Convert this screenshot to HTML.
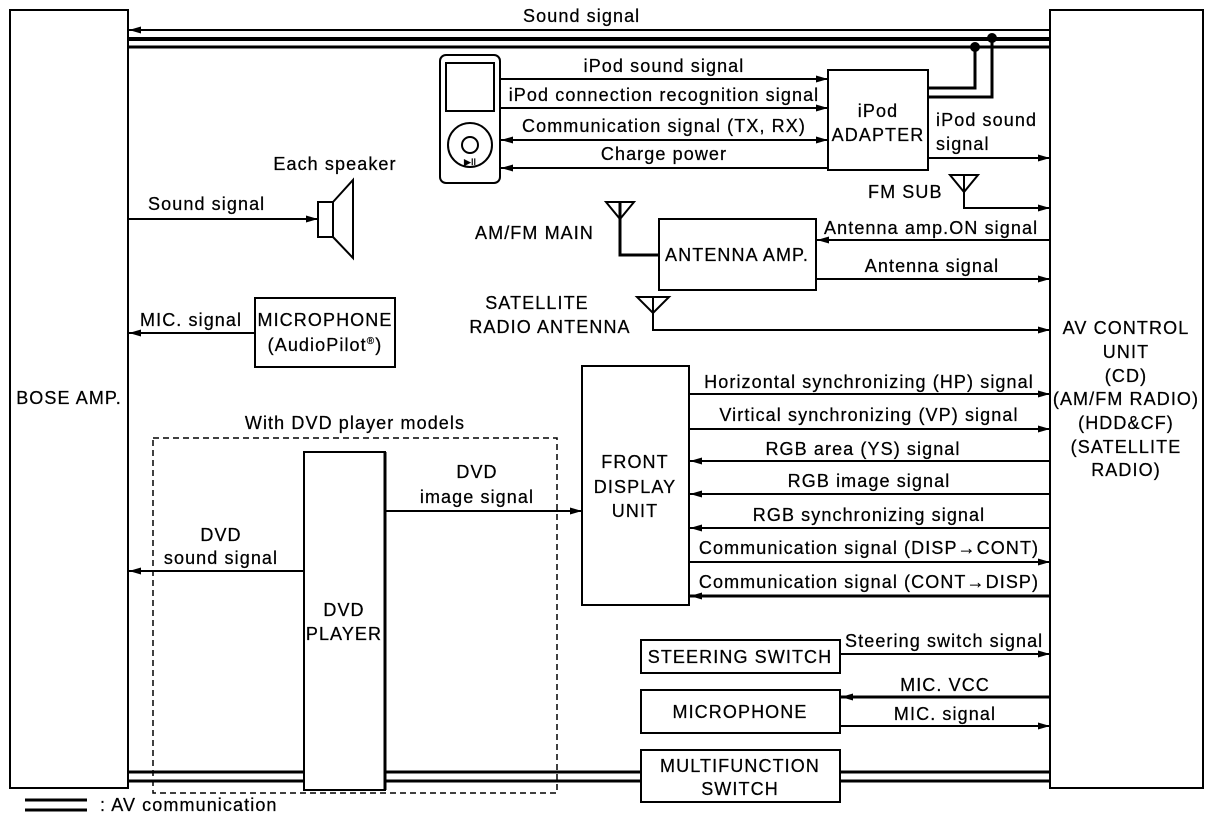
<!DOCTYPE html>
<html><head><meta charset="utf-8"><style>
html,body{margin:0;padding:0;background:#fff;}
svg{display:block;}
text{font-family:"Liberation Sans",Arial,sans-serif;font-size:18px;letter-spacing:1.1px;fill:#000;stroke:#000;stroke-width:0.25px;}
</style></head><body>
<svg width="1216" height="822" viewBox="0 0 1216 822" xmlns="http://www.w3.org/2000/svg">
<defs>
<marker id="a" markerWidth="12" markerHeight="8" refX="12" refY="4" orient="auto" markerUnits="userSpaceOnUse">
<path d="M0,0.5 L12,4 L0,7.5 Z" fill="#000"/></marker>
<marker id="s" markerWidth="12" markerHeight="8" refX="0" refY="4" orient="auto" markerUnits="userSpaceOnUse">
<path d="M12,0.5 L0,4 L12,7.5 Z" fill="#000"/></marker>
</defs>
<g stroke="#000" fill="none" stroke-width="2">
<rect x="10" y="10" width="118" height="778"/>
<rect x="1050" y="10" width="153" height="778"/>
<line x1="1050" y1="30" x2="129" y2="30" marker-end="url(#a)"/>
<line x1="128" y1="39" x2="1050" y2="39" stroke-width="4"/>
<line x1="128" y1="47" x2="1050" y2="47" stroke-width="3"/>
<polyline points="928,88 975,88 975,48" stroke-width="3"/>
<polyline points="928,97 992,97 992,39" stroke-width="3"/>
</g>
<circle cx="975" cy="47" r="5"/>
<circle cx="992" cy="38" r="5"/>
<g stroke="#000" fill="none" stroke-width="2">
<rect x="440" y="55" width="60" height="128" rx="6"/>
<rect x="446" y="63" width="48" height="48"/>
<circle cx="470" cy="145" r="22"/>
<circle cx="470" cy="145" r="8"/>
<rect x="828" y="70" width="100" height="100"/>
<line x1="500" y1="79" x2="828" y2="79" marker-end="url(#a)"/>
<line x1="500" y1="108" x2="828" y2="108" marker-end="url(#a)"/>
<line x1="501" y1="140" x2="828" y2="140" marker-start="url(#s)" marker-end="url(#a)"/>
<line x1="828" y1="168" x2="501" y2="168" marker-end="url(#a)"/>
<line x1="928" y1="158" x2="1050" y2="158" marker-end="url(#a)"/>
<path d="M950,175 L978,175 L964,192 Z"/>
<polyline points="964,175 964,208 1050,208" marker-end="url(#a)"/>
<rect x="659" y="219" width="157" height="71"/>
<line x1="1050" y1="240" x2="817" y2="240" marker-end="url(#a)"/>
<line x1="816" y1="279" x2="1050" y2="279" marker-end="url(#a)"/>
<path d="M606,202 L634,202 L620,219 Z"/>
<polyline points="620,202 620,255 659,255" stroke-width="3"/>
<path d="M637,297 L669,297 L653,313 Z"/>
<polyline points="653,297 653,330 1050,330" marker-end="url(#a)"/>
<line x1="128" y1="219" x2="318" y2="219" marker-end="url(#a)"/>
<rect x="318" y="202" width="15" height="35"/>
<path d="M333,202 L353,180 L353,258 L333,237"/>
<rect x="255" y="298" width="140" height="69"/>
<line x1="255" y1="333" x2="129" y2="333" marker-end="url(#a)"/>
<rect x="582" y="366" width="107" height="239"/>
<line x1="689" y1="394" x2="1050" y2="394" marker-end="url(#a)"/>
<line x1="689" y1="429" x2="1050" y2="429" marker-end="url(#a)"/>
<line x1="1050" y1="461" x2="690" y2="461" marker-end="url(#a)"/>
<line x1="1050" y1="494" x2="690" y2="494" marker-end="url(#a)"/>
<line x1="1050" y1="528" x2="690" y2="528" marker-end="url(#a)"/>
<line x1="689" y1="562" x2="1050" y2="562" marker-end="url(#a)"/>
<line x1="1050" y1="596" x2="690" y2="596" marker-end="url(#a)" stroke-width="3"/>
<rect x="153" y="438" width="404" height="355" stroke-width="1.5" stroke-dasharray="6,4"/>
<line x1="128" y1="772" x2="1050" y2="772" stroke-width="3"/>
<line x1="128" y1="781" x2="1050" y2="781" stroke-width="3"/>
<rect x="304" y="452" width="81" height="338" fill="#fff"/>
<line x1="385" y1="452" x2="385" y2="790" stroke-width="3"/>
<line x1="385" y1="511" x2="582" y2="511" marker-end="url(#a)"/>
<line x1="304" y1="571" x2="129" y2="571" marker-end="url(#a)"/>
<rect x="641" y="640" width="199" height="33"/>
<line x1="840" y1="654" x2="1050" y2="654" marker-end="url(#a)"/>
<rect x="641" y="690" width="199" height="43"/>
<line x1="1050" y1="697" x2="841" y2="697" marker-end="url(#a)" stroke-width="3"/>
<line x1="840" y1="726" x2="1050" y2="726" marker-end="url(#a)"/>
<rect x="641" y="750" width="199" height="52" fill="#fff"/>
<line x1="25" y1="800" x2="87" y2="800" stroke-width="3"/>
<line x1="25" y1="810" x2="87" y2="810" stroke-width="3"/>
</g>
<text x="470" y="165" text-anchor="middle" style="font-size:9px;letter-spacing:0">▶II</text>
<text x="523" y="22">Sound signal</text>
<text x="664" y="72" text-anchor="middle">iPod sound signal</text>
<text x="664" y="101" text-anchor="middle">iPod connection recognition signal</text>
<text x="664" y="132" text-anchor="middle">Communication signal (TX, RX)</text>
<text x="664" y="160" text-anchor="middle">Charge power</text>
<text x="878" y="117" text-anchor="middle">iPod</text>
<text x="878" y="141" text-anchor="middle">ADAPTER</text>
<text x="936" y="126">iPod sound</text>
<text x="936" y="150">signal</text>
<text x="868" y="198">FM SUB</text>
<text x="824" y="234">Antenna amp.ON signal</text>
<text x="737" y="261" text-anchor="middle">ANTENNA AMP.</text>
<text x="932" y="272" text-anchor="middle">Antenna signal</text>
<text x="475" y="239">AM/FM MAIN</text>
<text x="537" y="309" text-anchor="middle">SATELLITE</text>
<text x="550" y="333" text-anchor="middle">RADIO ANTENNA</text>
<text x="335" y="170" text-anchor="middle">Each speaker</text>
<text x="148" y="210">Sound signal</text>
<text x="140" y="326">MIC. signal</text>
<text x="325" y="326" text-anchor="middle">MICROPHONE</text>
<text x="325" y="351" text-anchor="middle">(AudioPilot<tspan font-size="10" dy="-7">®</tspan><tspan dy="7">)</tspan></text>
<text x="69" y="404" text-anchor="middle">BOSE AMP.</text>
<text x="1126" y="334" text-anchor="middle">AV CONTROL</text>
<text x="1126" y="358" text-anchor="middle">UNIT</text>
<text x="1126" y="382" text-anchor="middle">(CD)</text>
<text x="1126" y="405" text-anchor="middle">(AM/FM RADIO)</text>
<text x="1126" y="429" text-anchor="middle">(HDD&amp;CF)</text>
<text x="1126" y="453" text-anchor="middle">(SATELLITE</text>
<text x="1126" y="476" text-anchor="middle">RADIO)</text>
<text x="635" y="468" text-anchor="middle">FRONT</text>
<text x="635" y="493" text-anchor="middle">DISPLAY</text>
<text x="635" y="517" text-anchor="middle">UNIT</text>
<text x="869" y="388" text-anchor="middle">Horizontal synchronizing (HP) signal</text>
<text x="869" y="421" text-anchor="middle">Virtical synchronizing (VP) signal</text>
<text x="863" y="455" text-anchor="middle">RGB area (YS) signal</text>
<text x="869" y="487" text-anchor="middle">RGB image signal</text>
<text x="869" y="521" text-anchor="middle">RGB synchronizing signal</text>
<text x="869" y="554" text-anchor="middle">Communication signal (DISP→CONT)</text>
<text x="869" y="588" text-anchor="middle">Communication signal (CONT→DISP)</text>
<text x="355" y="429" text-anchor="middle">With DVD player models</text>
<text x="477" y="478" text-anchor="middle">DVD</text>
<text x="477" y="503" text-anchor="middle">image signal</text>
<text x="221" y="541" text-anchor="middle">DVD</text>
<text x="221" y="564" text-anchor="middle">sound signal</text>
<text x="344" y="616" text-anchor="middle">DVD</text>
<text x="344" y="640" text-anchor="middle">PLAYER</text>
<text x="740" y="663" text-anchor="middle">STEERING SWITCH</text>
<text x="845" y="647">Steering switch signal</text>
<text x="740" y="718" text-anchor="middle">MICROPHONE</text>
<text x="945" y="691" text-anchor="middle">MIC. VCC</text>
<text x="945" y="720" text-anchor="middle">MIC. signal</text>
<text x="740" y="772" text-anchor="middle">MULTIFUNCTION</text>
<text x="740" y="795" text-anchor="middle">SWITCH</text>
<text x="100" y="811">: AV communication</text>
</svg>
</body></html>
